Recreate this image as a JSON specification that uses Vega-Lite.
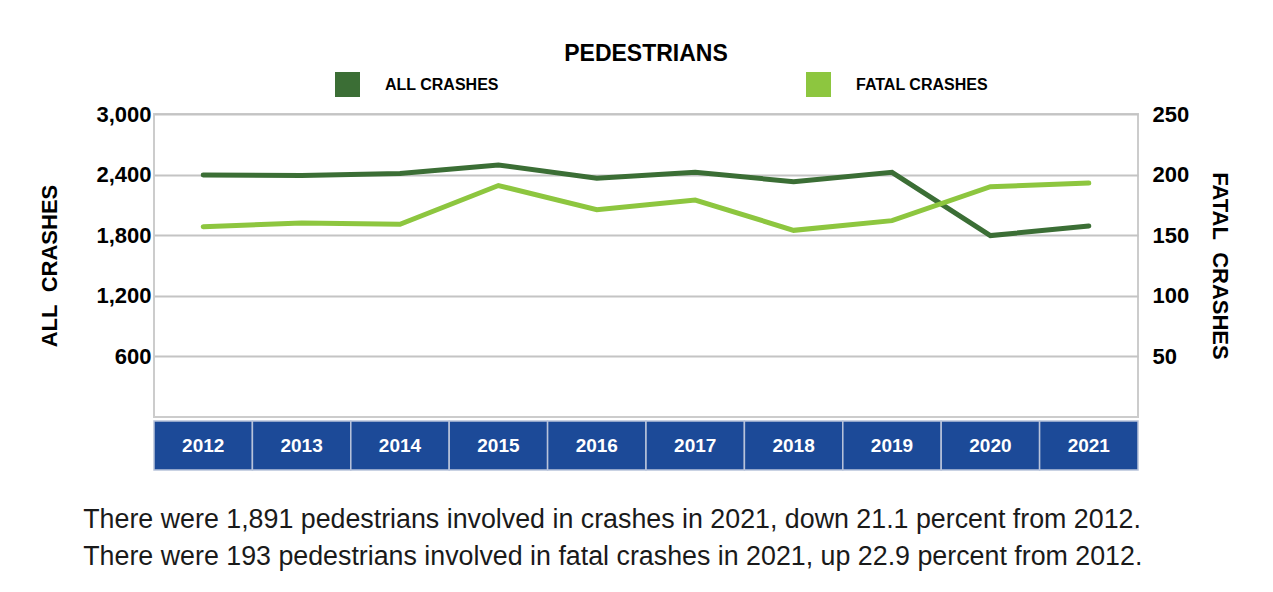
{
  "$schema": "https://vega.github.io/schema/vega-lite/v6.json",
  "background": "white",
  "padding": {"left": 37, "top": 42, "right": 10, "bottom": 10},
  "config": {
    "view": {"stroke": "#cccccc", "strokeWidth": 2},
    "font": "Liberation Sans, Arial, sans-serif"
  },
  "datasets": {
    "crashes": [
      {"year": "2012", "series": "ALL CRASHES", "value": 2397},
      {"year": "2013", "series": "ALL CRASHES", "value": 2390},
      {"year": "2014", "series": "ALL CRASHES", "value": 2410},
      {"year": "2015", "series": "ALL CRASHES", "value": 2495},
      {"year": "2016", "series": "ALL CRASHES", "value": 2364},
      {"year": "2017", "series": "ALL CRASHES", "value": 2423},
      {"year": "2018", "series": "ALL CRASHES", "value": 2330},
      {"year": "2019", "series": "ALL CRASHES", "value": 2423},
      {"year": "2020", "series": "ALL CRASHES", "value": 1796},
      {"year": "2021", "series": "ALL CRASHES", "value": 1891},
      {"year": "2012", "series": "FATAL CRASHES", "value": 157},
      {"year": "2013", "series": "FATAL CRASHES", "value": 160},
      {"year": "2014", "series": "FATAL CRASHES", "value": 159},
      {"year": "2015", "series": "FATAL CRASHES", "value": 191},
      {"year": "2016", "series": "FATAL CRASHES", "value": 171},
      {"year": "2017", "series": "FATAL CRASHES", "value": 179},
      {"year": "2018", "series": "FATAL CRASHES", "value": 154},
      {"year": "2019", "series": "FATAL CRASHES", "value": 162},
      {"year": "2020", "series": "FATAL CRASHES", "value": 190},
      {"year": "2021", "series": "FATAL CRASHES", "value": 193}
    ]
  },
  "spacing": 2,
  "resolve": {"scale": {"x": "independent"}},
  "vconcat": [
    {
      "width": 984,
      "height": 303,
      "title": {
        "text": "PEDESTRIANS",
        "font": "Liberation Sans, Arial, sans-serif",
        "fontSize": 23,
        "fontWeight": "bold",
        "color": "#000000",
        "anchor": "middle",
        "offset": 37
      },
      "data": {"name": "crashes"},
      "encoding": {
        "x": {"field": "year", "type": "ordinal", "axis": null}
      },
      "layer": [
        {
          "transform": [{"filter": "datum.series === 'ALL CRASHES'"}],
          "mark": {"type": "line", "strokeWidth": 5, "strokeCap": "round"},
          "encoding": {
            "y": {
              "field": "value",
              "type": "quantitative",
              "scale": {"domain": [0, 3000]},
              "axis": {
                "orient": "left",
                "values": [600, 1200, 1800, 2400, 3000],
                "format": ",.0f",
                "title": "ALL\u00a0\u00a0CRASHES",
                "titleFontSize": 22,
                "titleFontWeight": "bold",
                "titleColor": "#000000",
                "titlePadding": 34,
                "labelFontSize": 22,
                "labelFontWeight": "bold",
                "labelColor": "#000000",
                "labelPadding": 3,
                "ticks": false,
                "domain": false,
                "grid": true,
                "gridColor": "#c4c4c4",
                "gridWidth": 2
              }
            },
            "color": {
              "field": "series",
              "type": "nominal",
              "scale": {"domain": ["ALL CRASHES", "FATAL CRASHES"], "range": ["#3b6e35", "#8dc63f"]},
              "legend": {
                "title": null,
                "orient": "none",
                "direction": "horizontal",
                "legendX": 181,
                "legendY": -42,
                "symbolType": "square",
                "symbolSize": 625,
                "symbolStrokeWidth": 0,
                "labelOffset": 25,
                "labelFontSize": 16,
                "labelFontWeight": "bold",
                "labelColor": "#000000",
                "columnPadding": 307,
                "encode": {
                  "symbols": {
                    "update": {
                      "fill": {"scale": "color", "field": "value"},
                      "strokeWidth": {"value": 0}
                    }
                  }
                }
              }
            }
          }
        },
        {
          "transform": [{"filter": "datum.series === 'FATAL CRASHES'"}],
          "mark": {"type": "line", "strokeWidth": 5, "strokeCap": "round"},
          "encoding": {
            "y": {
              "field": "value",
              "type": "quantitative",
              "scale": {"domain": [0, 250]},
              "axis": {
                "orient": "right",
                "values": [50, 100, 150, 200, 250],
                "title": "FATAL\u00a0\u00a0CRASHES",
                "titleFontSize": 22,
                "titleFontWeight": "bold",
                "titleColor": "#000000",
                "titlePadding": 19,
                "labelFontSize": 22,
                "labelFontWeight": "bold",
                "labelColor": "#000000",
                "labelPadding": 14,
                "ticks": false,
                "domain": false,
                "grid": false
              }
            },
            "color": {"field": "series", "type": "nominal"}
          }
        }
      ],
      "resolve": {"scale": {"y": "independent"}}
    },
    {
      "width": 984,
      "height": 49,
      "view": {"stroke": null},
      "data": {"name": "crashes"},
      "transform": [{"filter": "datum.series === 'ALL CRASHES'"}],
      "title": {
        "text": [
          "There were 1,891 pedestrians involved in crashes in 2021, down 21.1 percent from 2012.",
          "There were 193 pedestrians involved in fatal crashes in 2021, up 22.9 percent from 2012."
        ],
        "orient": "bottom",
        "anchor": "start",
        "dx": -70,
        "offset": 36,
        "font": "Liberation Sans, Arial, sans-serif",
        "fontSize": 26.8,
        "fontWeight": "normal",
        "color": "#1a1a1a",
        "lineHeight": 37
      },
      "encoding": {
        "x": {
          "field": "year",
          "type": "ordinal",
          "axis": null,
          "scale": {"paddingInner": 0, "paddingOuter": 0}
        }
      },
      "layer": [
        {
          "mark": {"type": "rect", "fill": "#1c4a98", "stroke": "#b8c3da", "strokeWidth": 1.5}
        },
        {
          "mark": {
            "type": "text",
            "color": "#ffffff",
            "fontSize": 19,
            "fontWeight": "bold",
            "font": "Liberation Sans, Arial, sans-serif"
          },
          "encoding": {"text": {"field": "year"}}
        }
      ]
    }
  ]
}
